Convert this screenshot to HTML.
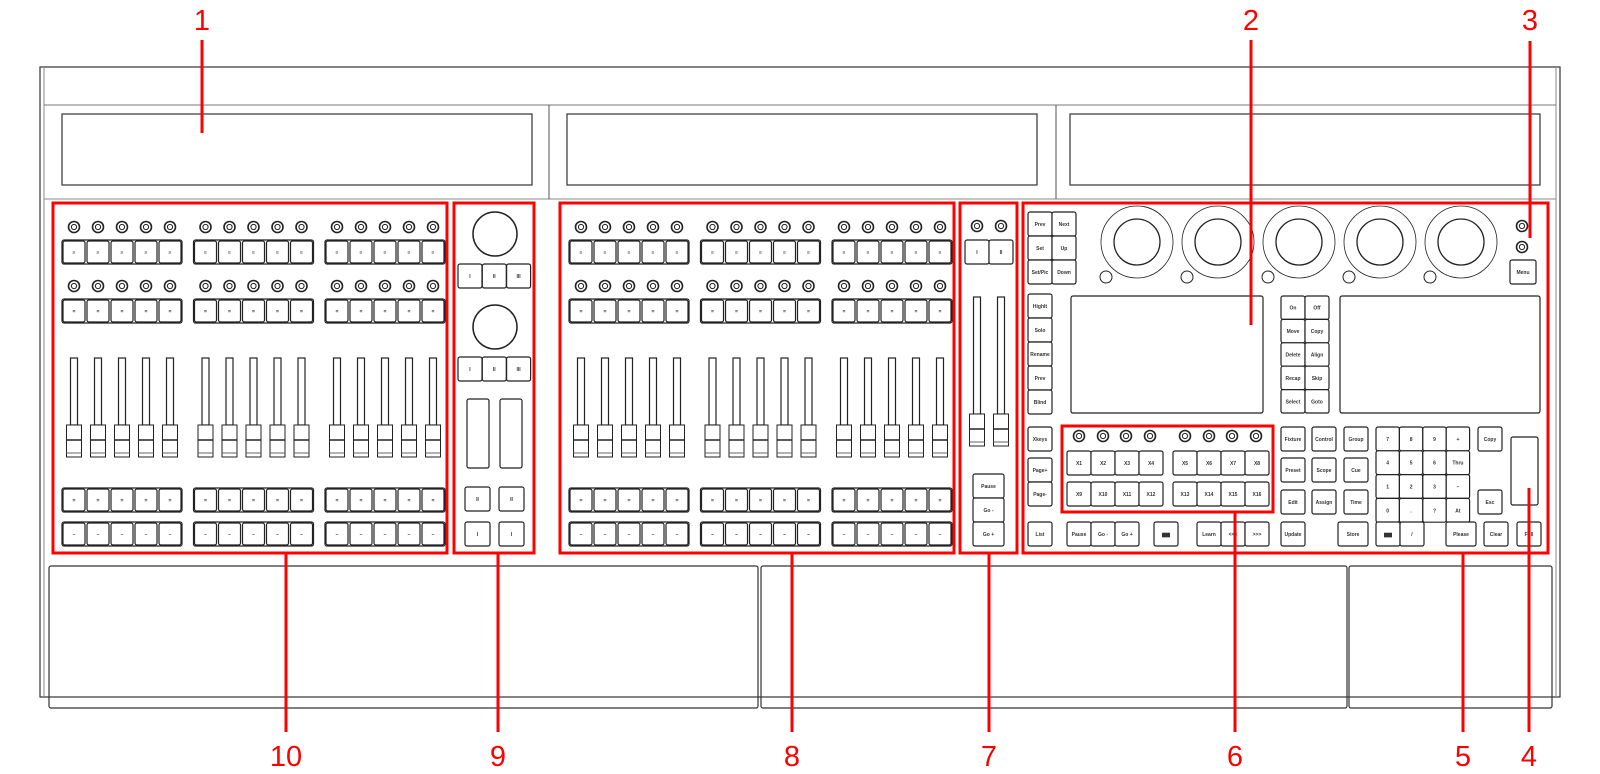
<!DOCTYPE html>
<html><head><meta charset="utf-8"><style>
html,body{margin:0;padding:0;background:#fff;}
svg{display:block;}
text{font-family:"Liberation Sans",sans-serif;}
.k{fill:#fff;stroke:#222;stroke-width:1.2;}
.t{font-size:5px;font-weight:bold;fill:#333;text-anchor:middle;}
.n{font-size:29px;fill:#f00;text-anchor:middle;}
.r{fill:none;stroke:#f00;stroke-width:3;}
.rl{stroke:#f00;stroke-width:3;}
.o{fill:none;stroke:#333;stroke-width:1.2;}
</style></head><body>
<svg id="s" width="1600" height="774" viewBox="0 0 1600 774" xmlns="http://www.w3.org/2000/svg">
<!-- console outline -->
<rect x="40" y="67" width="1520" height="630" class="o" stroke-width="1.5"/>
<line x1="44" y1="67" x2="44" y2="697" stroke="#888"/>
<line x1="1556" y1="67" x2="1556" y2="697" stroke="#888"/>
<line x1="44" y1="105" x2="1556" y2="105" stroke="#777"/>
<line x1="44" y1="199" x2="1556" y2="199" stroke="#888"/>
<line x1="549" y1="105" x2="549" y2="199" stroke="#555"/>
<line x1="1056" y1="105" x2="1056" y2="199" stroke="#555"/>
<rect x="62" y="114" width="470" height="71" class="o"/>
<rect x="567" y="114" width="470" height="71" class="o"/>
<rect x="1070" y="114" width="470" height="71" class="o"/>
<!-- bottom panels -->
<rect x="49" y="566" width="709" height="142" rx="2" class="o" fill="#fff"/>
<rect x="761" y="566" width="586" height="142" rx="2" class="o" fill="#fff"/>
<rect x="1349" y="566" width="203" height="142" rx="2" class="o" fill="#fff"/>
<g id="g"></g>
<!-- red boxes -->
<rect x="53" y="203" width="394" height="350" class="r"/>
<rect x="454" y="203" width="80" height="350" class="r"/>
<rect x="560" y="203" width="394" height="350" class="r"/>
<rect x="960" y="203" width="57" height="350" class="r"/>
<rect x="1023" y="203" width="525" height="350" class="r"/>
<rect x="1062" y="426" width="211" height="86" class="r"/>
<!-- leader lines -->
<line x1="202" y1="40" x2="202" y2="133" class="rl"/>
<line x1="1251" y1="40" x2="1251" y2="325" class="rl"/>
<line x1="1530" y1="41" x2="1530" y2="238" class="rl"/>
<line x1="286" y1="553" x2="286" y2="732" class="rl"/>
<line x1="498" y1="553" x2="498" y2="732" class="rl"/>
<line x1="792" y1="553" x2="792" y2="732" class="rl"/>
<line x1="989" y1="553" x2="989" y2="732" class="rl"/>
<line x1="1235" y1="512" x2="1235" y2="732" class="rl"/>
<line x1="1463" y1="553" x2="1463" y2="732" class="rl"/>
<line x1="1529" y1="488" x2="1529" y2="732" class="rl"/>
<text x="202" y="30" class="n">1</text>
<text x="1251" y="30" class="n">2</text>
<text x="1530" y="30" class="n">3</text>
<text x="286" y="766" class="n">10</text>
<text x="498" y="766" class="n">9</text>
<text x="792" y="766" class="n">8</text>
<text x="989" y="766" class="n">7</text>
<text x="1235" y="766" class="n">6</text>
<text x="1463" y="766" class="n">5</text>
<text x="1529" y="766" class="n">4</text>
</svg>
<script>
var g=document.getElementById('g'),NS='http://www.w3.org/2000/svg',h='';
function key(x,y,w,hh,l){h+='<rect x="'+x+'" y="'+y+'" width="'+w+'" height="'+hh+'" rx="2" class="k"/>';if(l)h+='<text x="'+(x+w/2)+'" y="'+(y+hh/2+2)+'" class="t">'+l+'</text>';}
function knob(x,y){h+='<circle cx="'+x+'" cy="'+y+'" r="5.5" fill="#fff" stroke="#222" stroke-width="1.6"/><circle cx="'+x+'" cy="'+y+'" r="2.6" fill="none" stroke="#222" stroke-width="1"/>';}
function circ(x,y,r,w){h+='<circle cx="'+x+'" cy="'+y+'" r="'+r+'" fill="#fff" stroke="#222" stroke-width="'+(w||1)+'"/>';}
function fader(x,top,bot){h+='<rect x="'+(x-3.5)+'" y="'+top+'" width="7" height="'+(bot-top)+'" class="k"/><rect x="'+(x-7.5)+'" y="'+bot+'" width="15" height="32" fill="#fff" stroke="#222"/><line x1="'+(x-7.5)+'" y1="'+(bot+15)+'" x2="'+(x+7.5)+'" y2="'+(bot+15)+'" stroke="#222" stroke-width="1.5"/><line x1="'+(x-7.5)+'" y1="'+(bot+28)+'" x2="'+(x+7.5)+'" y2="'+(bot+28)+'" stroke="#666"/>';}
function bank(ox){for(var gI=0;gI<3;gI++){var bx=ox+gI*131.5;h+='<rect x="'+bx+'" y="240" width="120" height="24" rx="2" class="k"/><rect x="'+bx+'" y="299" width="120" height="24" rx="2" class="k"/><rect x="'+bx+'" y="488" width="120" height="24" rx="2" class="k"/><rect x="'+bx+'" y="522" width="120" height="24" rx="2" class="k"/>';
for(var i=0;i<5;i++){var x=bx+12+i*24;knob(x,227);knob(x,286);key(x-11,241,22,22,'≡');key(x-11,300,22,22,'=');key(x-11,489,22,22,'=');key(x-11,523,22,22,'–');fader(x,358,425);}}}
bank(62);bank(569);
// section 9
circ(495,234,22,1.5);circ(495,327,22,1.5);
for(var i=0;i<3;i++){key(458+i*24.3,264,24,24,['I','II','III'][i]);key(458+i*24.3,357,24,24,['I','II','III'][i]);}
key(467,399,22,69);key(500,399,22,69);
key(465,487,25,24,'II');key(499,487,25,24,'II');key(465,522,25,24,'I');key(499,522,25,24,'I');
// section 7
knob(977,226);knob(1001,226);key(965,240,24,24,'I');key(989,240,24,24,'II');
fader(977,297,414);fader(1001,297,414);
key(973,474,31,24,'Pause');key(973,498,31,24,'Go -');key(973,522,31,24,'Go +');
// section 2
var tl=[['Prev','Next'],['Set','Up'],['Set/Pic','Down']];
for(var r=0;r<3;r++)for(var c=0;c<2;c++)key(1028+c*24,212+r*24,24,24,tl[r][c]);
var ex=[1137,1218,1299,1380,1461];
for(var i=0;i<5;i++){circ(ex[i],242,36,0.8);circ(ex[i],242,23,1.3);circ(ex[i]-31,277,6,1);}
knob(1522,226);knob(1522,247);key(1510,260,26,24,'Menu');
['Highlt','Solo','Rename','Prev','Blind'].forEach(function(l,i){key(1028,294+i*24,24,24,l);});
h+='<rect x="1071" y="296" width="192" height="117" rx="2" class="k"/><rect x="1340" y="296" width="200" height="117" rx="2" class="k"/>';
var mk=[['On','Off'],['Move','Copy'],['Delete','Align'],['Recap','Skip'],['Select','Goto']];
for(var r=0;r<5;r++)for(var c=0;c<2;c++)key(1281+c*24,296+r*23.4,24,23.4,mk[r][c]);
[1079,1103,1126,1150,1185,1209,1232,1256].forEach(function(x){knob(x,436);});
var xl=['X1','X2','X3','X4','X5','X6','X7','X8','X9','X10','X11','X12','X13','X14','X15','X16'];
for(var i=0;i<4;i++){key(1067+i*24,451,24,24,xl[i]);key(1173+i*24,451,24,24,xl[i+4]);key(1067+i*24,482,24,24,xl[i+8]);key(1173+i*24,482,24,24,xl[i+12]);}
key(1028,427,24,24,'Xkeys');key(1028,458,24,24,'Page+');key(1028,482,24,24,'Page-');key(1028,522,24,24,'List');
key(1067,522,24,24,'Pause');key(1091,522,24,24,'Go -');key(1115,522,24,24,'Go +');key(1154,522,24,24,'▆▆');
key(1197,522,24,24,'Learn');key(1221,522,24,24,'<<<');key(1245,522,24,24,'>>>');
key(1281,427,24,24,'Fixture');key(1281,458,24,24,'Preset');key(1281,490,24,24,'Edit');key(1281,522,24,24,'Update');
key(1312,427,24,24,'Control');key(1312,458,24,24,'Scope');key(1312,490,24,24,'Assign');
key(1344,427,24,24,'Group');key(1344,458,24,24,'Cue');key(1344,490,24,24,'Time');key(1338,522,30,24,'Store');
var np=[['7','8','9','+'],['4','5','6','Thru'],['1','2','3','−'],['0','.','?','At']];
for(var r=0;r<4;r++)for(var c=0;c<4;c++)key(1376+c*23.4,427+r*23.8,23.4,23.8,np[r][c]);
key(1376,522,24,24,'▆▆');key(1400,522,24,24,'/');key(1446,522,30,24,'Please');
key(1478,427,24,24,'Copy');key(1478,490,24,24,'Esc');key(1484,522,24,24,'Clear');key(1517,522,24,24,'Full');
key(1511,437,27,68);
g.innerHTML=h;
</script>
</body></html>
